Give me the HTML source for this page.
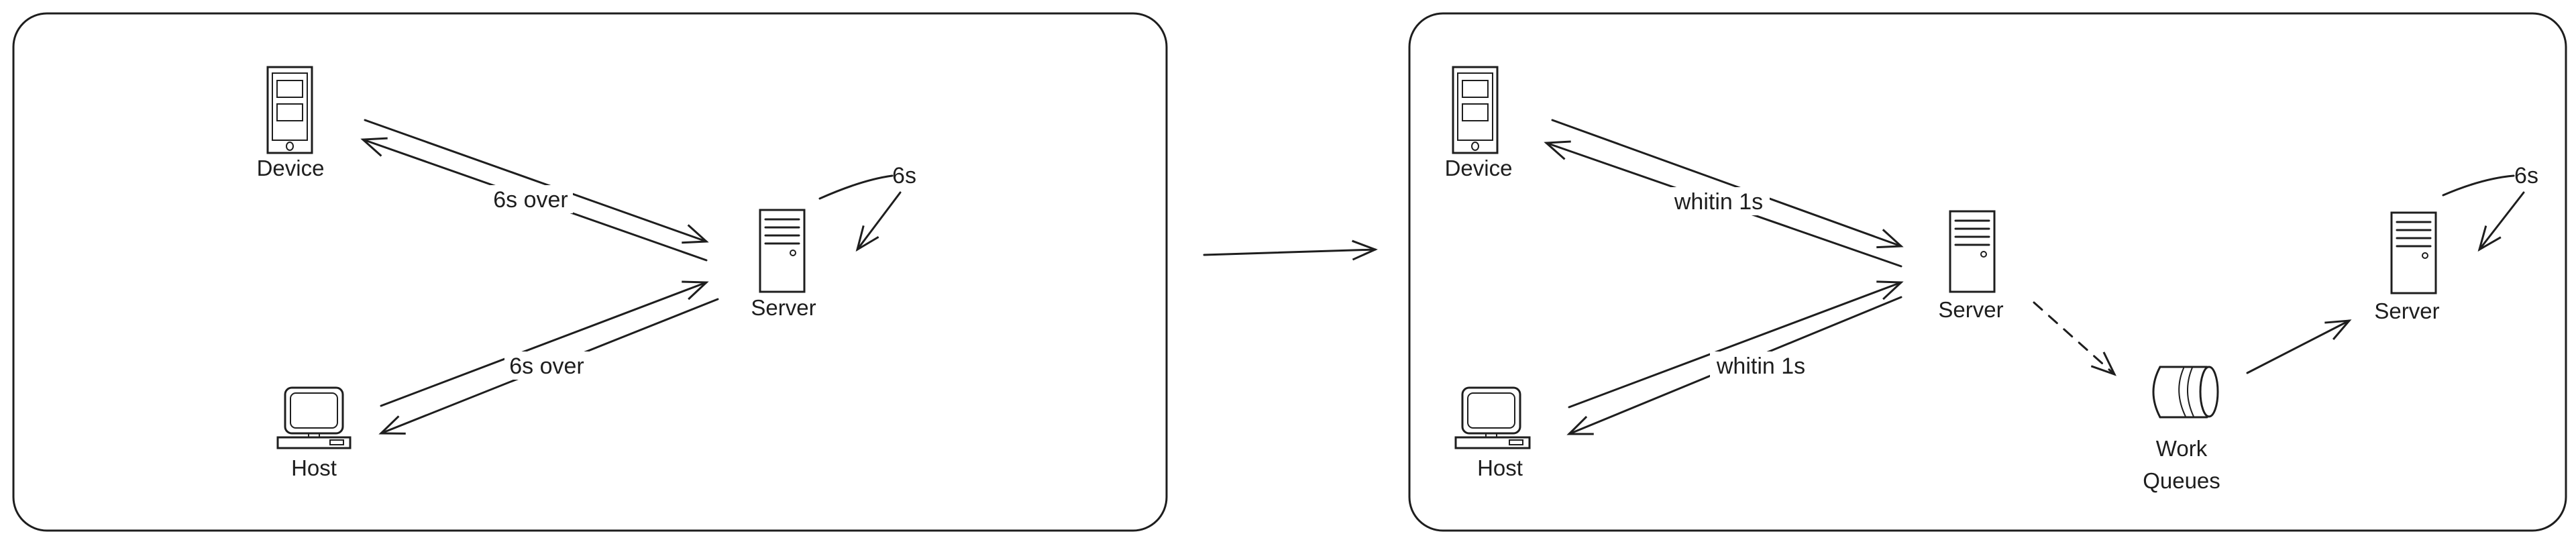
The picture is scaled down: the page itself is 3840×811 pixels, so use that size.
<!DOCTYPE html>
<html><head><meta charset="utf-8"><style>
html,body{margin:0;padding:0;background:#fff;}
svg{display:block;}
.hand{font-family:"Liberation Sans",sans-serif;font-size:33px;fill:#1e1e1e;}
.lbl{font-family:"Liberation Sans",sans-serif;font-size:34px;fill:#1e1e1e;}
</style></head><body>
<svg width="3840" height="811" viewBox="0 0 3840 811" xmlns="http://www.w3.org/2000/svg">
<defs>
<marker id="ah" markerUnits="userSpaceOnUse" markerWidth="44" markerHeight="44" refX="40" refY="22" orient="auto">
<path d="M6,8 L40,22 L6,36" fill="none" stroke="#1e1e1e" stroke-width="3"/>
</marker>
</defs>
<g fill="none" stroke="#1e1e1e" stroke-width="3" stroke-linecap="round">
<rect x="20" y="20" width="1719" height="771" rx="50"/>
<rect x="2101" y="20" width="1724" height="771" rx="50"/>
<line x1="1795" y1="380" x2="2050" y2="372" marker-end="url(#ah)"/>

<!-- LEFT PANEL -->
<rect x="399" y="100" width="66" height="128"/>
<rect x="406" y="109" width="52" height="100" stroke-width="2"/>
<rect x="413" y="120" width="38" height="25" stroke-width="2"/>
<rect x="413" y="155" width="38" height="25" stroke-width="2"/>
<ellipse cx="432" cy="218" rx="5" ry="6" stroke-width="2"/>
<rect x="1133" y="313" width="66" height="122"/>
<line x1="1141" y1="327" x2="1191" y2="327"/><line x1="1141" y1="339" x2="1191" y2="339"/>
<line x1="1141" y1="351" x2="1191" y2="351"/><line x1="1141" y1="363" x2="1191" y2="363"/>
<circle cx="1182" cy="377" r="4" stroke-width="2"/>
<rect x="425" y="578" width="86" height="68" rx="10"/>
<rect x="433" y="586" width="70" height="52" rx="8" stroke-width="2"/>
<rect x="460" y="646" width="16" height="6" stroke-width="2"/>
<rect x="414" y="652" width="108" height="16"/>
<rect x="492" y="656" width="20" height="7" stroke-width="2"/>
<line x1="544" y1="179" x2="1053" y2="360" marker-end="url(#ah)"/>
<line x1="1053" y1="388" x2="541" y2="208" marker-end="url(#ah)"/>
<line x1="568" y1="605" x2="1053" y2="421" marker-end="url(#ah)"/>
<line x1="1070" y1="446" x2="568" y2="646" marker-end="url(#ah)"/>
<path d="M1222,296 Q1285,268 1330,262"/>
<line x1="1342" y1="287" x2="1278" y2="372" marker-end="url(#ah)"/>

<!-- RIGHT PANEL -->
<rect x="2166" y="100" width="66" height="128"/>
<rect x="2173" y="109" width="52" height="100" stroke-width="2"/>
<rect x="2180" y="120" width="38" height="25" stroke-width="2"/>
<rect x="2180" y="155" width="38" height="25" stroke-width="2"/>
<ellipse cx="2199" cy="218" rx="5" ry="6" stroke-width="2"/>
<rect x="2907" y="315" width="66" height="120"/>
<line x1="2915" y1="329" x2="2965" y2="329"/><line x1="2915" y1="341" x2="2965" y2="341"/>
<line x1="2915" y1="353" x2="2965" y2="353"/><line x1="2915" y1="365" x2="2965" y2="365"/>
<circle cx="2957" cy="379" r="4" stroke-width="2"/>
<rect x="3565" y="317" width="66" height="120"/>
<line x1="3573" y1="331" x2="3623" y2="331"/><line x1="3573" y1="343" x2="3623" y2="343"/>
<line x1="3573" y1="355" x2="3623" y2="355"/><line x1="3573" y1="367" x2="3623" y2="367"/>
<circle cx="3615" cy="381" r="4" stroke-width="2"/>
<rect x="2180" y="578" width="86" height="68" rx="10"/>
<rect x="2188" y="586" width="70" height="52" rx="8" stroke-width="2"/>
<rect x="2215" y="646" width="16" height="6" stroke-width="2"/>
<rect x="2170" y="652" width="110" height="16"/>
<rect x="2250" y="656" width="20" height="7" stroke-width="2"/>
<path d="M3220,547 L3290,547 M3220,622 L3290,622"/>
<path d="M3220,547 Q3200,584 3220,622"/>
<ellipse cx="3293" cy="584" rx="13" ry="37"/>
<path d="M3255,549 Q3240,584 3258,621" stroke-width="2"/>
<path d="M3268,548 Q3253,584 3270,621" stroke-width="2"/>
<line x1="2314" y1="179" x2="2834" y2="367" marker-end="url(#ah)"/>
<line x1="2834" y1="397" x2="2305" y2="213" marker-end="url(#ah)"/>
<line x1="2339" y1="607" x2="2834" y2="421" marker-end="url(#ah)"/>
<line x1="2834" y1="443" x2="2339" y2="647" marker-end="url(#ah)"/>
<line x1="3032" y1="451" x2="3152" y2="558" stroke-dasharray="16,14" marker-end="url(#ah)"/>
<line x1="3350" y1="556" x2="3502" y2="478" marker-end="url(#ah)"/>
<path d="M3642,291 Q3700,266 3747,262"/>
<line x1="3762" y1="287" x2="3696" y2="372" marker-end="url(#ah)"/>
</g>

<rect x="728" y="276" width="126" height="42" fill="#fff"/>
<rect x="752" y="524" width="126" height="42" fill="#fff"/>
<rect x="2486" y="279" width="152" height="42" fill="#fff"/>
<rect x="2549" y="524" width="152" height="42" fill="#fff"/>

<g text-anchor="middle">
<text class="hand" x="433" y="262">Device</text>
<text class="hand" x="1168" y="470">Server</text>
<text class="hand" x="468" y="709">Host</text>
<text class="lbl" x="791" y="309">6s over</text>
<text class="lbl" x="815" y="557">6s over</text>
<text class="lbl" x="1348" y="273">6s</text>
<text class="hand" x="2204" y="262">Device</text>
<text class="hand" x="2938" y="473">Server</text>
<text class="hand" x="3588" y="475">Server</text>
<text class="hand" x="2236" y="709">Host</text>
<text class="hand" x="3252" y="680">Work</text>
<text class="hand" x="3252" y="728">Queues</text>
<text class="lbl" x="2562" y="312">whitin 1s</text>
<text class="lbl" x="2625" y="557">whitin 1s</text>
<text class="lbl" x="3766" y="273">6s</text>
</g>
</svg>
</body></html>
